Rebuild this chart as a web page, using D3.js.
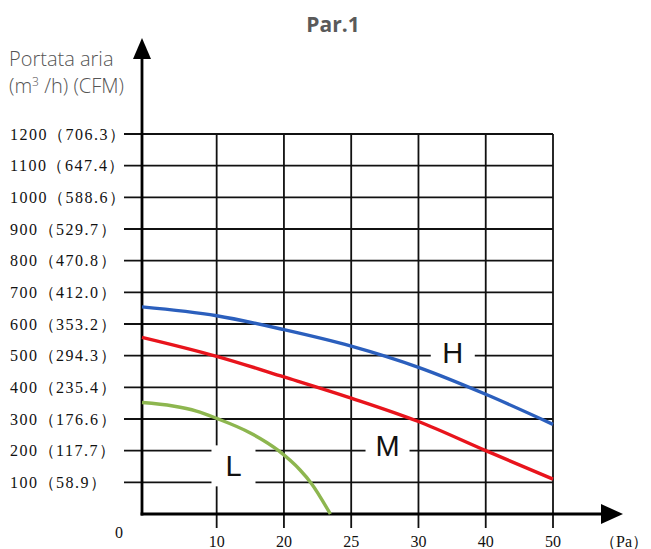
<!DOCTYPE html>
<html>
<head>
<meta charset="utf-8">
<script src="https://cdn.jsdelivr.net/npm/d3@7"></script>
<style>
  body { margin: 0; background: #fff; }
  svg { display: block; }
</style>
</head>
<body>
<svg id="chart" width="651" height="549"></svg>
<script>
// flow values on the y axis (m3/h) and their CFM equivalents
const yValues = [100, 200, 300, 400, 500, 600, 700, 800, 900, 1000, 1100, 1200];
const cfmValues = ["58.9", "117.7", "176.6", "235.4", "294.3", "353.2", "412.0", "470.8", "529.7", "588.6", "647.4", "706.3"];

// x axis: evenly spaced grid columns, labelled with pressure (Pa)
const xTickLabels = ["10", "20", "25", "30", "40", "50"];
const xColumns = [1, 2, 3, 4, 5, 6];

// curves, x in grid columns (the y axis sits slightly left of column 0)
const hCol = [-0.11, 1, 2, 3, 4, 5, 6];
const hFlow = [654, 626, 582, 530, 463, 378, 283];
const mCol = [-0.11, 1, 2, 3, 4, 5, 6];
const mFlow = [558, 498, 433, 366, 292, 200, 110];
const lCol = [-0.11, 0.35, 0.7, 1, 1.5, 1.92, 2.24, 2.4, 2.69];
const lFlow = [352, 341, 325, 302, 256, 200, 139, 99, 0];

const svg = d3.select("#chart");

const x = d3.scaleLinear().domain([-0.11, 6]).range([142, 553]);
const y = d3.scaleLinear().domain([0, 1200]).range([514, 134]);

const serif = "'Liberation Serif', 'Times New Roman', serif";
const sans = "'Open Sans', 'Noto Sans', sans-serif";

// title
svg.append("text")
  .attr("x", 333).attr("y", 32)
  .attr("text-anchor", "middle")
  .attr("font-family", sans).attr("font-weight", 700).attr("font-size", 21)
  .attr("fill", "#5a5a5a")
  .text("Par.1");

// y axis title
const yTitle = svg.append("text")
  .attr("font-family", sans).attr("font-weight", 300).attr("font-size", 20)
  .attr("fill", "#555");
yTitle.append("tspan").attr("x", 9).attr("y", 66).text("Portata aria");
yTitle.append("tspan").attr("x", 9).attr("y", 93).text("(m");
yTitle.append("tspan").attr("dy", -7).attr("font-size", 12).text("3");
yTitle.append("tspan").attr("dy", 7).text(" /h) (CFM)");

// grid
const grid = svg.append("g").attr("stroke", "#111").attr("stroke-width", 1.8);

grid.selectAll("line.h")
  .data(yValues)
  .join("line")
  .attr("class", "h")
  .attr("x1", 124).attr("x2", x(6))
  .attr("y1", d => y(d)).attr("y2", d => y(d));

grid.selectAll("line.v")
  .data(xColumns)
  .join("line")
  .attr("class", "v")
  .attr("x1", d => x(d)).attr("x2", d => x(d))
  .attr("y1", y(1200)).attr("y2", 528);

// y tick labels
svg.append("g")
  .selectAll("text")
  .data(yValues)
  .join("text")
  .attr("x", 10)
  .attr("y", d => y(d))
  .attr("dy", "0.35em")
  .attr("font-family", serif).attr("font-size", 16)
  .attr("letter-spacing", 1.5)
  .attr("fill", "#111")
  .text((d, i) => `${d}（${cfmValues[i]}）`);

// x tick labels
svg.append("g")
  .selectAll("text")
  .data(xTickLabels)
  .join("text")
  .attr("x", (d, i) => x(xColumns[i]))
  .attr("y", 547)
  .attr("text-anchor", "middle")
  .attr("font-family", serif).attr("font-size", 16)
  .attr("fill", "#111")
  .text(d => d);

svg.append("text")
  .attr("x", 119).attr("y", 538)
  .attr("text-anchor", "middle")
  .attr("font-family", serif).attr("font-size", 16)
  .attr("fill", "#111")
  .text("0");

svg.append("text")
  .attr("x", 648).attr("y", 547)
  .attr("text-anchor", "end")
  .attr("font-family", serif).attr("font-size", 16)
  .attr("fill", "#111")
  .text("（Pa）");

// white boxes behind the curve names
const curveNames = [
  { name: "H", col: 4.51, flow: 510, w: 44, h: 30 },
  { name: "M", col: 3.54, flow: 215, w: 44, h: 32 },
  { name: "L", col: 1.25, flow: 152, w: 44, h: 41 }
];

svg.append("g")
  .selectAll("rect")
  .data(curveNames)
  .join("rect")
  .attr("x", d => x(d.col) - d.w / 2)
  .attr("y", d => y(d.flow) - d.h / 2)
  .attr("width", d => d.w)
  .attr("height", d => d.h)
  .attr("fill", "#fff");

// axes with arrow heads
const axes = svg.append("g").attr("stroke", "#000").attr("stroke-width", 2.8);
axes.append("line").attr("x1", x(-0.11)).attr("x2", x(-0.11)).attr("y1", y(0) + 1.4).attr("y2", 56);
axes.append("line").attr("x1", x(-0.11) - 1.4).attr("x2", 604).attr("y1", y(0)).attr("y2", y(0));

svg.append("path")
  .attr("d", `M${x(-0.11)},38 L${x(-0.11) - 9},59 L${x(-0.11) + 9},59 Z`)
  .attr("fill", "#000");
svg.append("path")
  .attr("d", `M623,${y(0)} L601,${y(0) - 10} L601,${y(0) + 10} Z`)
  .attr("fill", "#000");

// curves
const line = d3.line()
  .x(d => x(d[0]))
  .y(d => y(d[1]))
  .curve(d3.curveMonotoneX);

const curves = [
  { cols: hCol, flows: hFlow, color: "#2b5fbd" },
  { cols: mCol, flows: mFlow, color: "#e8141c" },
  { cols: lCol, flows: lFlow, color: "#8db64f" }
];

svg.append("g")
  .selectAll("path")
  .data(curves)
  .join("path")
  .attr("d", d => line(d.cols.map((c, i) => [c, d.flows[i]])))
  .attr("fill", "none")
  .attr("stroke", d => d.color)
  .attr("stroke-width", 3.4)
  .attr("stroke-linecap", "butt");

// curve names
svg.append("g")
  .selectAll("text")
  .data(curveNames)
  .join("text")
  .attr("x", d => x(d.col))
  .attr("y", d => y(d.flow))
  .attr("dy", "0.36em")
  .attr("text-anchor", "middle")
  .attr("font-family", "'Liberation Sans', Arial, sans-serif")
  .attr("font-size", 29)
  .attr("fill", "#111")
  .text(d => d.name);
</script>
</body>
</html>
